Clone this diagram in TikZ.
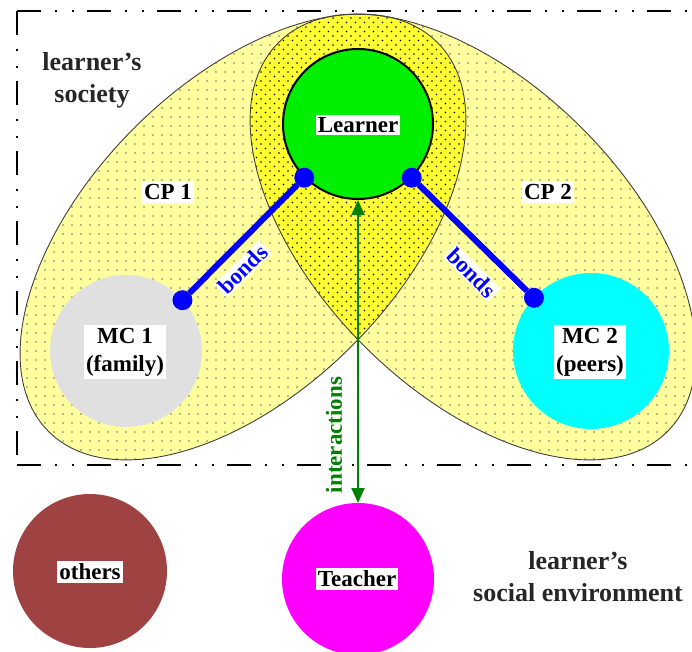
\documentclass[tikz,border=0pt]{standalone}
\usepackage{fontspec}
\setmainfont{Liberation Serif}
\usetikzlibrary{arrows.meta}
\definecolor{lightyel}{HTML}{FFFF9E}
\definecolor{darkyel}{HTML}{FFFF33}
\definecolor{lgreen}{HTML}{00EE00}
\definecolor{brownc}{HTML}{9E4242}
\definecolor{igreen}{HTML}{008000}
\definecolor{mcgray}{HTML}{E0E0E0}
\definecolor{mccyan}{HTML}{00FFFF}
\definecolor{tmagenta}{HTML}{FF00FF}
\begin{document}
\begin{tikzpicture}[x=1pt,y=-1pt,
  frame/.style={line width=2.5pt, dash pattern=on 24pt off 14pt on 2pt off 15pt on 2pt off 13pt},
  cpline/.style={draw=black!75, line width=0.9pt},
  circ/.style={circle, inner sep=0pt, outer sep=0pt},
  bdot/.style={circle, fill=blue, minimum size=20pt, inner sep=0pt, outer sep=0pt},
  bond/.style={blue, line width=6pt},
  lbl/.style={font=\fontsize{23}{28}\selectfont\bfseries, fill=white, inner xsep=2pt, inner ysep=3pt, align=center},
  plain/.style={font=\fontsize{26}{32}\selectfont\bfseries, align=center, text=black!85},
  interact/.style={igreen, line width=2pt, {Triangle[length=15pt,width=13pt]}-{Triangle[length=15pt,width=13pt]}},
  cpL/.style={rotate around={45:(243,237)}},
  cpR/.style={rotate around={-45:(473,237)}}
]
\useasboundingbox (0,0) rectangle (692,651);
\clip (0,0) rectangle (692,651);
% frame
\draw[frame] (17,11) -- (720,11);
\draw[frame] (17,11) -- (17,465);
\draw[frame] (17,465) -- (720,465);
% communities of practice
\fill[lightyel, cpL] (243,237) ellipse [x radius=275, y radius=154];
\fill[lightyel, cpR] (473,237) ellipse [x radius=275, y radius=154];
\begin{scope}
  \clip[cpL] (243,237) ellipse [x radius=275, y radius=154];
  \foreach \x in {18,27,...,470} \foreach \y in {9,18,...,466} \fill[black!55] (\x,\y) circle (0.85);
\end{scope}
\begin{scope}
  \clip[cpR] (473,237) ellipse [x radius=275, y radius=154];
  \foreach \x in {243,252,...,696} \foreach \y in {9,18,...,466} \fill[black!55] (\x,\y) circle (0.85);
\end{scope}
\begin{scope}
  \clip[cpL] (243,237) ellipse [x radius=275, y radius=154];
  \fill[darkyel, cpR] (473,237) ellipse [x radius=275, y radius=154];
  \clip[cpR] (473,237) ellipse [x radius=275, y radius=154];
  \foreach \x in {243,252,...,470} \foreach \y in {9,18,...,350} \fill[black] (\x,\y) circle (0.85);
  \foreach \x in {247.5,256.5,...,470} \foreach \y in {13.5,22.5,...,350} \fill[black] (\x,\y) circle (0.85);
\end{scope}
\draw[cpline, cpL] (243,237) ellipse [x radius=275, y radius=154];
\draw[cpline, cpR] (473,237) ellipse [x radius=275, y radius=154];
% circles
\node[circ, fill=mcgray, minimum size=152pt] (mc1) at (126,351) {};
\node[circ, fill=mccyan, minimum size=156pt] (mc2) at (591,351) {};
\node[circ, fill=lgreen, draw=black, line width=2pt, outer sep=1pt, minimum size=150pt] (learner) at (358,124) {};
\node[circ, fill=brownc, minimum size=154pt] (others) at (90,571) {};
\node[circ, fill=tmagenta, minimum size=152pt] (teacher) at (358,579) {};
% bonds
\node[bdot] (b1) at (learner.225) {};
\node[bdot] (b2) at (mc1.42) {};
\node[bdot] (b3) at (learner.315) {};
\node[bdot] (b4) at (mc2.137) {};
\draw[bond] (b1) -- (b2);
\draw[bond] (b3) -- (b4);
% interactions
\draw[interact] (learner) -- (teacher);
% labels
\node[lbl, inner ysep=2pt] (learnerlbl) at (358,125) {Learner};
\node[lbl] (cp1) at (168,192) {CP 1};
\node[lbl] (cp2) at (548,192) {CP 2};
\node[lbl] (mc1lbl) at (125,352) {MC 1\\(family)};
\node[lbl] (mc2lbl) at (590,352) {MC 2\\(peers)};
\node[lbl] (otherslbl) at (90,572) {others};
\node[lbl] (teacherlbl) at (357,579) {Teacher};
\node[lbl, text=blue, rotate=45, inner ysep=1pt] (bondsL) at (243,269) {bonds};
\node[lbl, text=blue, rotate=-45, inner ysep=1pt] (bondsR) at (472,273) {bonds};
\node[lbl, text=igreen, rotate=90, inner ysep=1pt] (inter) at (334,435) {interactions};
\node[plain] (society) at (92,80) {learner’s\\society};
\node[plain] (env) at (578,577) {learner’s\\social environment};
\end{tikzpicture}
\end{document}
